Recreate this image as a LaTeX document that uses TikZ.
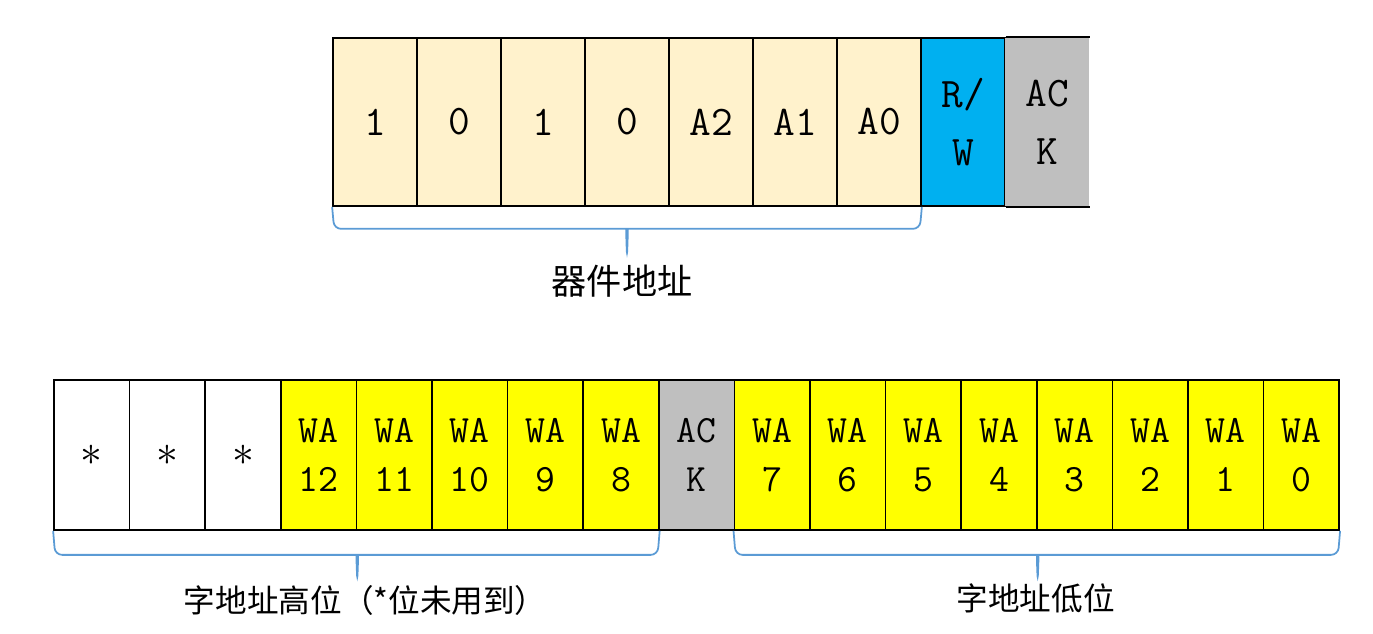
\documentclass[tikz,border=0pt]{standalone}
\usepackage{fontspec}
\usetikzlibrary{calc}
\newfontfamily\cjk{Noto Sans CJK SC}
\definecolor{beige}{RGB}{255,242,204}
\definecolor{rwblue}{RGB}{0,176,240}
\definecolor{ackgray}{RGB}{191,191,191}
\definecolor{wayellow}{RGB}{255,255,0}
\definecolor{bracecol}{RGB}{91,155,213}
\tikzset{
  topcell/.style={draw, line width=1pt, minimum width=1.68cm, minimum height=3.36cm, inner sep=0pt, align=center, font=\ttfamily\fontsize{24}{33}\selectfont},
  botcell/.style={draw, line width=1pt, minimum width=1.512cm, minimum height=3.0cm, inner sep=0pt, align=center, font=\ttfamily\fontsize{22}{28}\selectfont},
  bracepath/.style={draw=bracecol, line width=1pt, rounded corners=4pt},
  tagtext/.style={font=\cjk\fontsize{#1}{24}\selectfont}
}
\begin{document}
\begin{tikzpicture}[x=0.02cm, y=-0.02cm]
    \useasboundingbox (0,0) rectangle (1373,633);
    % device address byte
    \foreach \lbl [count=\i] in {1,0,1,0,A2,A1,A0}
        \node[topcell, fill=beige] (t\i) at ({333+84*(\i-0.5)},122) {\lbl};
    \node[topcell, fill=rwblue] (t8) at ({333+84*7.5},122) {R/\\W};
    \node[topcell, fill=ackgray, draw=none] (t9) at ({333+84*8.5},122) {AC\\K}; % no right edge
    \draw[line width=1pt] (t8.north east) -- (t9.north east);
    \draw[line width=1pt] (t8.south east) -- (t9.south east);

    % word address bytes
    \foreach \i in {1,2,3}
        \node[botcell, fill=white] (b\i) at ({54+75.6*(\i-0.5)},455) {\fontsize{30}{30}\selectfont$\ast$};
    \foreach \n [count=\i from 4] in {12,11,10,9,8}
        \node[botcell, fill=wayellow] (b\i) at ({54+75.6*(\i-0.5)},455) {WA\\\n};
    \node[botcell, fill=ackgray] (b9) at ({54+75.6*8.5},455) {AC\\K};
    \foreach \n [count=\i from 10] in {7,6,5,4,3,2,1,0}
        \node[botcell, fill=wayellow] (b\i) at ({54+75.6*(\i-0.5)},455) {WA\\\n};

    % braces
    \draw[bracepath] (t1.south west) -- ++(2,22) -- ($(t4.south)+(-7,22)$)
        .. controls ($(t4.south)+(-1,22)$) .. ($(t4.south)+(0,50)$)
        .. controls ($(t4.south)+(1,22)$) .. ($(t4.south)+(7,22)$)
        -- ($(t7.south east)+(-2,22)$) -- (t7.south east);
    \draw[bracepath] (b1.south west) -- ++(2,24) -- ($(b4.south east)+(-7,24)$)
        .. controls ($(b4.south east)+(-1,24)$) .. ($(b4.south east)+(0,50)$)
        .. controls ($(b4.south east)+(1,24)$) .. ($(b4.south east)+(7,24)$)
        -- ($(b8.south east)+(-2,24)$) -- (b8.south east);
    \draw[bracepath] (b10.south west) -- ++(2,24) -- ($(b13.south east)+(-7,24)$)
        .. controls ($(b13.south east)+(-1,24)$) .. ($(b13.south east)+(0,50)$)
        .. controls ($(b13.south east)+(1,24)$) .. ($(b13.south east)+(7,24)$)
        -- ($(b17.south east)+(-2,24)$) -- (b17.south east);

    \node[tagtext=20] (lblTop) at ($(t4.south)+(-5,74)$) {器件地址};
    \node[tagtext=18] (lblHigh) at ($(b4.south east)+(8,70)$) {字地址高位（*位未用到）};
    \node[tagtext=18] (lblLow) at ($(b13.south east)+(-2,68)$) {字地址低位};
\end{tikzpicture}
\end{document}
